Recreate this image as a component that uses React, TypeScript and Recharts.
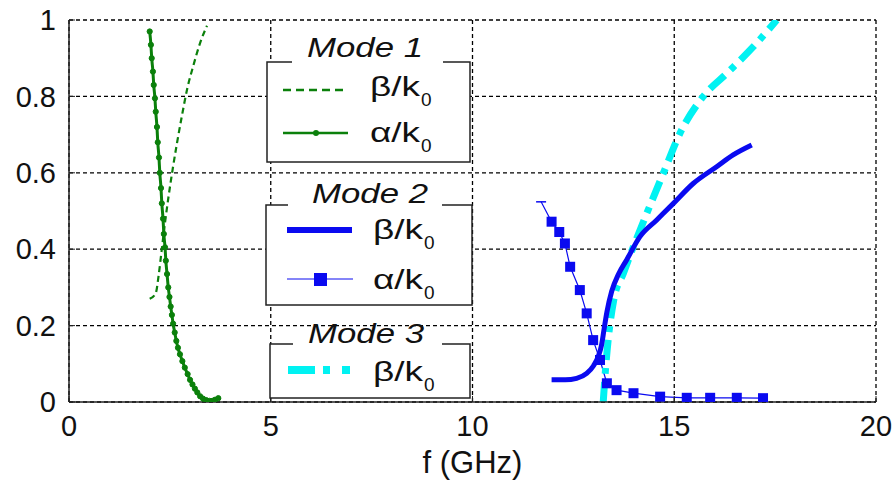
import { ComposedChart, Line, XAxis, YAxis, CartesianGrid } from 'recharts';

const xTicks = [0, 5, 10, 15, 20];
const yTicks = [0, 0.2, 0.4, 0.6, 0.8, 1];

// Mode 1
const mode1Beta = [
  { x: 2.0, y: 0.27 }, { x: 2.15, y: 0.285 }, { x: 2.22, y: 0.33 }, { x: 2.3, y: 0.4 },
  { x: 2.38, y: 0.47 }, { x: 2.47, y: 0.54 }, { x: 2.57, y: 0.61 }, { x: 2.68, y: 0.68 },
  { x: 2.8, y: 0.75 }, { x: 2.93, y: 0.82 }, { x: 3.08, y: 0.88 }, { x: 3.25, y: 0.94 },
  { x: 3.42, y: 0.985 },
];
const mode1Alpha = [
  { x: 2.0, y: 0.97 }, { x: 2.03, y: 0.935 }, { x: 2.05, y: 0.9 }, { x: 2.08, y: 0.865 },
  { x: 2.1, y: 0.83 }, { x: 2.13, y: 0.795 }, { x: 2.15, y: 0.76 }, { x: 2.18, y: 0.72 },
  { x: 2.2, y: 0.68 }, { x: 2.23, y: 0.64 }, { x: 2.25, y: 0.6 }, { x: 2.28, y: 0.56 },
  { x: 2.3, y: 0.52 }, { x: 2.33, y: 0.48 }, { x: 2.35, y: 0.44 }, { x: 2.38, y: 0.405 },
  { x: 2.4, y: 0.37 }, { x: 2.43, y: 0.335 }, { x: 2.46, y: 0.3 }, { x: 2.49, y: 0.275 },
  { x: 2.52, y: 0.25 }, { x: 2.55, y: 0.228 }, { x: 2.58, y: 0.205 }, { x: 2.62, y: 0.182 },
  { x: 2.66, y: 0.16 }, { x: 2.7, y: 0.142 }, { x: 2.75, y: 0.125 }, { x: 2.81, y: 0.107 },
  { x: 2.87, y: 0.09 }, { x: 2.94, y: 0.073 }, { x: 3.0, y: 0.058 }, { x: 3.06, y: 0.046 },
  { x: 3.12, y: 0.035 }, { x: 3.18, y: 0.025 }, { x: 3.25, y: 0.015 }, { x: 3.32, y: 0.009 },
  { x: 3.4, y: 0.005 }, { x: 3.48, y: 0.003 }, { x: 3.55, y: 0.003 }, { x: 3.62, y: 0.006 },
  { x: 3.7, y: 0.01 },
];

// Mode 2
const mode2Beta = [
  { x: 11.96, y: 0.058 }, { x: 12.3, y: 0.058 }, { x: 12.58, y: 0.062 }, { x: 12.83, y: 0.075 },
  { x: 13.0, y: 0.095 }, { x: 13.12, y: 0.12 }, { x: 13.2, y: 0.15 }, { x: 13.26, y: 0.19 },
  { x: 13.33, y: 0.235 }, { x: 13.45, y: 0.29 }, { x: 13.62, y: 0.335 }, { x: 13.82, y: 0.372 },
  { x: 14.15, y: 0.433 }, { x: 14.56, y: 0.476 }, { x: 14.98, y: 0.52 }, { x: 15.47, y: 0.572 },
  { x: 16.05, y: 0.616 }, { x: 16.46, y: 0.647 }, { x: 16.92, y: 0.673 },
];
const mode2Alpha = [
  { x: 11.7, y: 0.524 }, { x: 11.96, y: 0.472 }, { x: 12.15, y: 0.445 }, { x: 12.29, y: 0.415 },
  { x: 12.42, y: 0.354 }, { x: 12.66, y: 0.293 }, { x: 12.83, y: 0.232 }, { x: 12.99, y: 0.162 },
  { x: 13.16, y: 0.11 }, { x: 13.33, y: 0.049 }, { x: 13.57, y: 0.031 }, { x: 13.99, y: 0.023 },
  { x: 14.65, y: 0.014 }, { x: 15.31, y: 0.011 }, { x: 15.89, y: 0.011 }, { x: 16.55, y: 0.011 },
  { x: 17.2, y: 0.01 },
];

// Mode 3
const mode3Beta = [
  { x: 13.24, y: 0.0 }, { x: 13.3, y: 0.09 }, { x: 13.38, y: 0.18 }, { x: 13.5, y: 0.267 },
  { x: 13.74, y: 0.337 }, { x: 13.99, y: 0.407 }, { x: 14.32, y: 0.494 }, { x: 14.73, y: 0.599 },
  { x: 15.14, y: 0.703 }, { x: 15.72, y: 0.8 }, { x: 16.3, y: 0.86 }, { x: 16.96, y: 0.93 },
  { x: 17.54, y: 1.0 },
];

const GREEN = '#0b800b';
const BLUE = '#0a0af0';
const CYAN = '#00f2f2';
const INK = '#111';
const FONT = '"Liberation Sans", Arial, sans-serif';

const tickStyle = { fill: INK, fontSize: 29, fontFamily: FONT };

// first sample gets a short cap instead of a square, as in the original
const SquareDot = (props: any) => {
  const { cx, cy, index } = props;
  if (cx == null || cy == null) return null;
  if (index === 0) return <line key={`sq-${index}`} x1={cx - 5} y1={cy} x2={cx + 5} y2={cy} stroke={BLUE} strokeWidth={1.5} />;
  return <rect key={`sq-${index}`} x={cx - 5} y={cy - 5} width={10} height={10} fill={BLUE} />;
};

// one framed legend group, MATLAB-style title sitting on the top border
function LegendBox({ x, y, w, h, title, titleX, titleY, gapFrom, gapTo, children }: any) {
  return (
    <g>
      <rect x={x} y={y} width={w} height={h} fill="#fff" stroke="#222" strokeWidth={1.5} />
      <rect x={gapFrom} y={y - 3} width={gapTo - gapFrom} height={6} fill="#fff" />
      <text
        x={titleX - 58}
        y={titleY}
        fontSize={27}
        fontStyle="italic"
        fill={INK}
        fontFamily={FONT}
        textLength={116}
        lengthAdjust="spacingAndGlyphs"
      >
        {title}
      </text>
      {children}
    </g>
  );
}

function Label({ x, y, sym }: { x: number; y: number; sym: string }) {
  return (
    <g fill={INK} fontFamily={FONT}>
      <text x={x} y={y} fontSize={27} textLength={50} lengthAdjust="spacingAndGlyphs">
        {sym}/k
      </text>
      <text x={x + 51} y={y + 10} fontSize={19}>0</text>
    </g>
  );
}

export default function App() {
  return (
    <div style={{ position: 'absolute', left: 0, top: 0, width: 893, height: 481, background: '#fff' }}>
      <ComposedChart width={893} height={481} margin={{ top: 20, right: 17, bottom: 0, left: 0 }}>
        <CartesianGrid stroke="#000" strokeWidth={1.3} strokeDasharray="4 3" />
        <XAxis
          dataKey="x"
          type="number"
          domain={[0, 20]}
          ticks={xTicks}
          allowDataOverflow
          height={79}
          tick={tickStyle}
          tickSize={-6}
          tickMargin={19}
          tickLine={{ stroke: '#222' }}
          axisLine={{ stroke: '#222', strokeWidth: 1.5 }}
          label={{ value: 'f (GHz)', position: 'insideBottom', offset: 8, fill: INK, fontSize: 31, fontFamily: FONT }}
        />
        <YAxis
          dataKey="y"
          type="number"
          domain={[0, 1]}
          ticks={yTicks}
          allowDataOverflow
          width={69}
          tick={tickStyle}
          tickSize={-6}
          tickMargin={19}
          tickLine={{ stroke: '#222' }}
          axisLine={{ stroke: '#222', strokeWidth: 1.5 }}
        />
        <Line type="monotone" data={mode1Beta} dataKey="y" stroke={GREEN} strokeWidth={2.2} strokeDasharray="6 4" dot={false} isAnimationActive={false} />
        <Line
          type="monotone"
          data={mode1Alpha}
          dataKey="y"
          stroke={GREEN}
          strokeWidth={3}
          dot={{ r: 2.6, fill: GREEN, stroke: GREEN, strokeWidth: 1 }}
          isAnimationActive={false}
        />
        <Line data={mode2Alpha} dataKey="y" stroke={BLUE} strokeWidth={1.2} dot={SquareDot} isAnimationActive={false} />
        <Line type="monotone" data={mode3Beta} dataKey="y" stroke={CYAN} strokeWidth={7} strokeDasharray="20 8 6 8" dot={false} isAnimationActive={false} />
        <Line type="monotone" data={mode2Beta} dataKey="y" stroke={BLUE} strokeWidth={5} dot={false} isAnimationActive={false} />
      </ComposedChart>

      <svg width={893} height={481} style={{ position: 'absolute', left: 0, top: 0, pointerEvents: 'none' }}>
        <LegendBox x={267} y={62} w={203} h={100} title="Mode 1" titleX={365} titleY={57} gapFrom={292} gapTo={443}>
          <line x1={283} y1={90} x2={348} y2={90} stroke={GREEN} strokeWidth={2.5} strokeDasharray="8 5" />
          <Label x={370} y={96} sym="β" />
          <line x1={283} y1={133} x2={348} y2={133} stroke={GREEN} strokeWidth={2.5} />
          <circle cx={316} cy={133} r={3} fill={GREEN} />
          <Label x={370} y={142} sym="α" />
        </LegendBox>
        <LegendBox x={266} y={205} w={206} h={100} title="Mode 2" titleX={370} titleY={203} gapFrom={288} gapTo={442}>
          <line x1={287} y1={230} x2={352} y2={230} stroke={BLUE} strokeWidth={6} />
          <Label x={373} y={239} sym="β" />
          <line x1={287} y1={279} x2={353} y2={279} stroke={BLUE} strokeWidth={1} />
          <rect x={314} y={273} width={13} height={13} fill={BLUE} />
          <Label x={373} y={289} sym="α" />
        </LegendBox>
        <LegendBox x={270} y={344} w={200} h={54} title="Mode 3" titleX={366} titleY={343} gapFrom={293} gapTo={442}>
          <line x1={288} y1={370} x2={350} y2={370} stroke={CYAN} strokeWidth={8} strokeDasharray="27 8 7 12 8 100" />
          <Label x={373} y={381} sym="β" />
        </LegendBox>
      </svg>
    </div>
  );
}
